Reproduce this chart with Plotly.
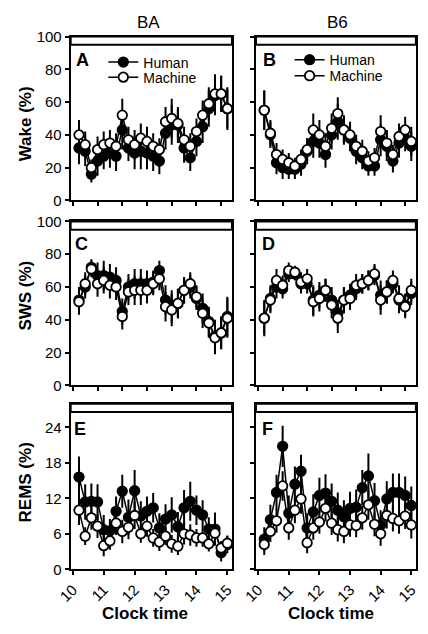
import plotly.graph_objects as go

W, H = 428, 634
FONT = "Liberation Sans, Arial, sans-serif"

times = [10.2, 10.4, 10.6, 10.8, 11.0, 11.2, 11.4, 11.6, 11.8, 12.0,
         12.2, 12.4, 12.6, 12.8, 13.0, 13.2, 13.4, 13.6, 13.8, 14.0,
         14.2, 14.4, 14.6, 14.8, 15.0]

# Panel A: Wake BA
wake_ba_human = [32, 30, 16, 24, 27, 29, 27, 43, 32, 29, 30, 29, 27, 24, 41, 46, 46, 32, 26, 36, 45, 56, 64, 65, 56]
wake_ba_human_err = [10, 9, 5, 9, 8, 9, 9, 12, 8, 10, 11, 10, 9, 8, 10, 12, 11, 9, 8, 9, 10, 11, 12, 11, 12]
wake_ba_machine = [40, 34, 20, 31, 34, 35, 33, 52, 37, 34, 38, 36, 33, 31, 48, 50, 47, 37, 33, 42, 52, 59, 65, 65, 56]
wake_ba_machine_err = [9, 8, 5, 8, 8, 8, 8, 10, 8, 9, 9, 9, 8, 7, 9, 12, 9, 8, 8, 8, 9, 10, 12, 11, 13]

# Panel B: Wake B6
wake_b6_human = [55, 40, 23, 20, 19, 19, 22, 30, 36, 35, 28, 40, 48, 43, 38, 30, 26, 21, 21, 37, 33, 24, 35, 38, 33]
wake_b6_human_err = [12, 8, 7, 7, 6, 6, 7, 8, 10, 9, 8, 9, 11, 9, 8, 8, 7, 6, 6, 10, 9, 7, 9, 8, 9]
wake_b6_machine = [55, 41, 28, 25, 23, 21, 25, 31, 43, 40, 33, 44, 53, 43, 40, 33, 30, 24, 26, 42, 35, 28, 39, 43, 36]
wake_b6_machine_err = [12, 8, 7, 6, 6, 5, 6, 7, 10, 9, 8, 9, 10, 8, 8, 7, 7, 6, 6, 10, 8, 6, 8, 8, 9]

# Panel C: SWS BA
sws_ba_human = [52, 60, 72, 67, 67, 66, 64, 45, 60, 62, 62, 62, 63, 70, 52, 48, 50, 58, 60, 53, 47, 39, 30, 32, 42]
sws_ba_human_err = [8, 7, 5, 8, 9, 8, 8, 8, 8, 9, 9, 8, 7, 6, 9, 10, 9, 8, 7, 7, 9, 9, 10, 10, 12]
sws_ba_machine = [51, 62, 71, 62, 64, 61, 60, 42, 57, 58, 58, 58, 62, 65, 48, 46, 50, 58, 62, 54, 44, 38, 29, 32, 41]
sws_ba_machine_err = [8, 7, 5, 8, 8, 8, 8, 8, 8, 9, 9, 8, 7, 7, 9, 10, 9, 8, 7, 7, 9, 9, 10, 10, 12]

# Panel D: SWS B6
sws_b6_human = [41, 53, 60, 59, 68, 68, 62, 62, 52, 55, 58, 52, 44, 52, 55, 59, 62, 64, 67, 55, 57, 62, 52, 49, 56]
sws_b6_human_err = [10, 8, 7, 6, 5, 4, 6, 6, 9, 8, 7, 8, 8, 8, 7, 7, 6, 6, 6, 9, 7, 6, 8, 7, 7]
sws_b6_machine = [41, 52, 64, 61, 70, 69, 63, 65, 51, 53, 58, 49, 41, 52, 53, 61, 62, 64, 68, 52, 57, 64, 53, 48, 58]
sws_b6_machine_err = [11, 8, 7, 6, 5, 4, 6, 6, 9, 8, 7, 8, 9, 8, 7, 7, 6, 6, 6, 9, 7, 6, 8, 7, 7]

# Panel E: REMS BA
rems_ba_human = [15.6, 11.4, 11.5, 11.4, 6.7, 6.5, 9.8, 13.2, 8.8, 13.3, 9.0, 9.8, 10.4, 7.0, 8.5, 9.2, 7.2, 10.4, 11.5, 10.0, 9.2, 6.8, 6.8, 2.8, 4.2]
rems_ba_human_err = [3.5, 3.0, 3.0, 3.0, 2.5, 2.0, 2.5, 2.8, 3.0, 3.5, 2.5, 2.5, 2.5, 2.5, 2.5, 3.0, 2.5, 3.0, 3.3, 2.5, 2.5, 2.0, 2.8, 1.5, 1.5]
rems_ba_machine = [10.0, 5.6, 8.7, 7.3, 4.0, 4.8, 7.8, 6.4, 7.1, 9.1, 6.0, 7.3, 5.3, 4.6, 5.6, 4.3, 3.9, 6.0, 5.8, 5.3, 5.3, 4.3, 6.1, 3.6, 4.4]
rems_ba_machine_err = [2.5, 1.5, 2.0, 2.0, 1.8, 1.5, 2.0, 2.0, 2.0, 2.3, 1.5, 1.8, 1.5, 1.5, 1.5, 1.5, 1.5, 1.8, 1.8, 1.5, 1.5, 1.3, 1.8, 1.2, 1.2]

# Panel F: REMS B6
rems_b6_human = [5.1, 8.4, 13.0, 20.8, 9.5, 14.4, 16.6, 7.0, 9.7, 12.5, 12.9, 11.5, 10.0, 8.9, 10.3, 10.5, 13.8, 15.8, 11.6, 7.5, 11.9, 13.0, 13.0, 12.5, 10.8]
rems_b6_human_err = [2.0, 2.5, 3.0, 3.5, 3.0, 3.0, 2.8, 2.5, 3.0, 3.0, 3.2, 3.0, 3.0, 2.8, 2.8, 3.0, 3.0, 3.8, 3.0, 2.5, 3.0, 3.2, 3.2, 3.2, 3.2]
rems_b6_machine = [4.2, 6.4, 8.2, 14.1, 7.0, 10.0, 11.9, 4.5, 7.0, 8.0, 10.3, 7.8, 6.7, 6.4, 7.5, 7.4, 8.7, 10.9, 7.6, 6.0, 9.1, 8.6, 8.2, 9.0, 7.5]
rems_b6_machine_err = [1.8, 1.8, 2.0, 2.5, 2.0, 2.2, 2.5, 1.8, 2.0, 2.0, 2.2, 2.0, 2.0, 2.0, 2.0, 2.0, 2.0, 2.5, 2.0, 2.0, 2.2, 2.2, 2.2, 2.2, 2.3]

series_names = ["Human", "Machine"]
panel_letters = ["A", "B", "C", "D", "E", "F"]
column_titles = ["BA", "B6"]
row_titles = ["Wake (%)", "SWS (%)", "REMS (%)"]
x_title = "Clock time"
bottom_tickvals = [10, 11, 12, 13, 14, 15]
upper_tickvals = [10, 10.8, 11.6, 12.4, 13.2, 14.0, 14.8]
pct_ticks = [0, 20, 40, 60, 80, 100]
rems_ticks = [0, 6, 12, 18, 24]

panels = [
    (wake_ba_human, wake_ba_human_err, wake_ba_machine, wake_ba_machine_err),
    (wake_b6_human, wake_b6_human_err, wake_b6_machine, wake_b6_machine_err),
    (sws_ba_human, sws_ba_human_err, sws_ba_machine, sws_ba_machine_err),
    (sws_b6_human, sws_b6_human_err, sws_b6_machine, sws_b6_machine_err),
    (rems_ba_human, rems_ba_human_err, rems_ba_machine, rems_ba_machine_err),
    (rems_b6_human, rems_b6_human_err, rems_b6_machine, rems_b6_machine_err),
]

def px_x(p):
    return p / W

def px_y(p):
    return 1 - p / H

col_px = [(59, 227), (252, 418.5)]
row_px = [(28.3, 196.7), (218.3, 386.7), (405.7, 575.7)]
yranges = [[0, 100], [0, 100], [0, 28]]
xrange_ = [9.93, 15.15]

# one legend per entry so each row can be placed exactly
legend_ids = {(0, 0): "legend", (0, 1): "legend3", (1, 0): "legend2", (1, 1): "legend4"}

fig = go.Figure()
layout = dict(
    width=W, height=H, margin=dict(l=0, r=0, t=0, b=0),
    paper_bgcolor="white", plot_bgcolor="white",
    font=dict(family=FONT, size=15, color="black"),
    shapes=[], annotations=[],
)

for i, (h, he, m, me) in enumerate(panels):
    r, c = divmod(i, 2)
    n = i + 1
    xa = "x" if n == 1 else f"x{n}"
    ya = "y" if n == 1 else f"y{n}"
    show = i < 2
    for s, (vals, errs, fill) in enumerate([(h, he, "black"), (m, me, "white")]):
        fig.add_trace(go.Scatter(
            x=times, y=vals, name=series_names[s], mode="lines+markers",
            xaxis=xa, yaxis=ya,
            legend=legend_ids.get((i, s), "legend"), showlegend=show,
            line=dict(color="black", width=1.5),
            marker=dict(symbol="circle", size=9.5, color=fill,
                        line=dict(color="black", width=1.8)),
            error_y=dict(type="data", array=errs, visible=True,
                         thickness=2, width=0, color="black"),
        ))
    x0, x1 = col_px[c]
    y0, y1 = row_px[r]
    xkey = "xaxis" if n == 1 else f"xaxis{n}"
    ykey = "yaxis" if n == 1 else f"yaxis{n}"
    bottom = r == 2
    layout[xkey] = dict(
        domain=[px_x(x0), px_x(x1)], anchor=ya, range=xrange_,
        showline=True, linecolor="black", linewidth=2, mirror=True,
        showgrid=False, zeroline=False,
        ticks="outside", ticklen=4, tickwidth=1.5, tickcolor="black",
        tickvals=bottom_tickvals if bottom else upper_tickvals,
        ticktext=[str(v) for v in bottom_tickvals] if bottom else None,
        showticklabels=bottom, tickangle=-45,
        tickfont=dict(family=FONT, size=15),
    )
    layout[ykey] = dict(
        domain=[px_y(y1), px_y(y0)], anchor=xa, range=yranges[r],
        showline=True, linecolor="black", linewidth=2, mirror=True,
        showgrid=False, zeroline=False,
        ticks="outside", ticklen=4, tickwidth=1.5, tickcolor="black",
        tickvals=rems_ticks if r == 2 else pct_ticks,
        showticklabels=(c == 0),
        tickfont=dict(family=FONT, size=15),
    )
    # light-phase bar
    layout["shapes"].append(dict(
        type="rect", xref=f"{xa} domain", yref=f"{ya} domain",
        x0=0, x1=1, y0=0.95, y1=1, fillcolor="white",
        line=dict(color="black", width=2), layer="above",
    ))
    # panel letter
    lx = [71, 266.5, 70, 265.5, 68.5, 263.5][i]
    ly = [52.5, 52, 241.5, 241.5, 431.5, 431.5][i]
    layout["annotations"].append(dict(
        text=f"<b>{panel_letters[i]}</b>", x=px_x(lx), y=px_y(ly),
        xref="paper", yref="paper", showarrow=False,
        xanchor="center", yanchor="middle",
        font=dict(family=FONT, size=18, color="black"),
    ))

for c, t in enumerate(column_titles):
    layout["annotations"].append(dict(
        text=t, x=px_x([140, 336.5][c]), y=px_y(14), xref="paper", yref="paper",
        showarrow=False, xanchor="center", yanchor="middle",
        font=dict(family=FONT, size=17, color="black"),
    ))
    layout["annotations"].append(dict(
        text=f"<b>{x_title}</b>", x=px_x([136.5, 330][c]), y=px_y(621),
        xref="paper", yref="paper", showarrow=False,
        xanchor="center", yanchor="middle",
        font=dict(family=FONT, size=17, color="black"),
    ))

for r, t in enumerate(row_titles):
    layout["annotations"].append(dict(
        text=f"<b>{t}</b>", x=px_x(12), y=px_y([118, 295, 487][r]),
        xref="paper", yref="paper", showarrow=False, textangle=-90,
        xanchor="center", yanchor="middle",
        font=dict(family=FONT, size=17, color="black"),
    ))

legend_common = dict(
    bgcolor="rgba(0,0,0,0)", borderwidth=0, xanchor="left", yanchor="top",
    font=dict(family=FONT, size=14, color="black"),
)
layout["legend"] = dict(x=px_x(93), y=px_y(38.5), **legend_common)
layout["legend3"] = dict(x=px_x(93), y=px_y(54), **legend_common)
layout["legend2"] = dict(x=px_x(287), y=px_y(36), **legend_common)
layout["legend4"] = dict(x=px_x(287), y=px_y(52.5), **legend_common)
layout["showlegend"] = True

fig.update_layout(**layout)
fig.write_html("out.html")
